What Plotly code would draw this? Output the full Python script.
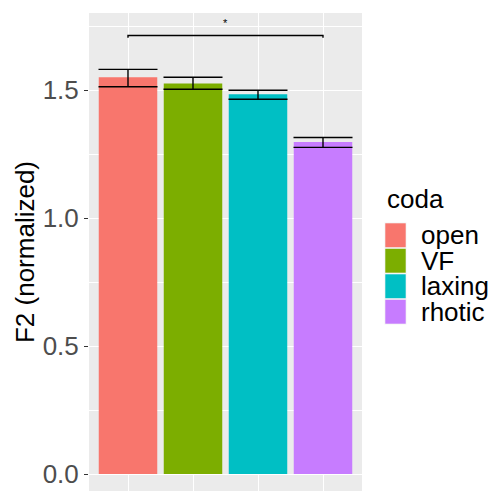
import plotly.graph_objects as go

# ---- data ----
categories = ["open", "VF", "laxing", "rhotic"]
means = [1.550, 1.526, 1.484, 1.297]
err_upper = [1.581, 1.550, 1.499, 1.315]
err_lower = [1.513, 1.503, 1.464, 1.276]
colors = ["#F8766D", "#7CAE00", "#00BFC4", "#C77CFF"]
y_tick_vals = [0.0, 0.5, 1.0, 1.5]
y_tick_text = ["0.0", "0.5", "1.0", "1.5"]
y_minor_vals = [0.25, 0.75, 1.25, 1.75]
sig_pair = ("open", "rhotic")
sig_y = 1.713
sig_tick = 0.009
sig_label = "*"
legend_title = "coda"

FONT = "Liberation Sans, Arial, sans-serif"
W, H = 489, 491
L, R, T, B = 89, 127, 13, 0
pw, ph = W - L - R, H - T - B


def px(x):
    return (x - L) / pw


def py(y):
    return (H - B - y) / ph


fig = go.Figure()
fig.add_trace(go.Bar(
    x=categories, y=means,
    marker=dict(color=colors, line=dict(width=0)),
    width=0.9,
    error_y=dict(type="data", symmetric=False,
                 array=[u - m for u, m in zip(err_upper, means)],
                 arrayminus=[m - l for m, l in zip(means, err_lower)],
                 color="black", thickness=1.4, width=29.5),
    showlegend=False,
))

# significance bracket
i0, i1 = categories.index(sig_pair[0]), categories.index(sig_pair[1])
fig.add_trace(go.Scatter(
    x=[sig_pair[0], sig_pair[0], sig_pair[1], sig_pair[1]],
    y=[sig_y - sig_tick, sig_y, sig_y, sig_y - sig_tick],
    mode="lines", line=dict(color="black", width=1.4),
    showlegend=False, hoverinfo="skip",
))
fig.add_annotation(x=(i0 + i1) / 2, y=sig_y, text=sig_label, showarrow=False,
                   xref="x", yref="y", yanchor="bottom", yshift=5,
                   font=dict(family=FONT, size=11, color="black"))

# manual legend (ggplot style)
shapes = []
annotations = []
annotations.append(dict(x=px(385), y=py(199), xref="paper", yref="paper",
                        text=legend_title, showarrow=False, xanchor="left",
                        yanchor="middle",
                        font=dict(family=FONT, size=26, color="black")))
key_top = 222.5
key_h = 25.5
for k, (cat, col) in enumerate(zip(categories, colors)):
    y0 = key_top + k * key_h
    shapes.append(dict(type="rect", xref="paper", yref="paper",
                       x0=px(384.5), x1=px(406.5), y0=py(y0), y1=py(y0 + key_h),
                       fillcolor="#F2F2F2", line=dict(width=0), layer="above"))
    shapes.append(dict(type="rect", xref="paper", yref="paper",
                       x0=px(385.3), x1=px(405.7), y0=py(y0 + 0.8), y1=py(y0 + key_h - 0.8),
                       fillcolor=col, line=dict(width=0), layer="above"))
    annotations.append(dict(x=px(419), y=py(y0 + key_h / 2), xref="paper", yref="paper",
                            text=cat, showarrow=False, xanchor="left", yanchor="middle",
                            font=dict(family=FONT, size=26, color="black")))
for a in annotations:
    fig.add_annotation(**a)

fig.update_layout(
    width=W, height=H,
    margin=dict(l=L, r=R, t=T, b=B, pad=0),
    paper_bgcolor="white", plot_bgcolor="#EBEBEB",
    font=dict(family=FONT),
    shapes=shapes,
    bargap=0.1,
    showlegend=False,
)
fig.update_xaxes(
    type="category", categoryorder="array", categoryarray=categories,
    range=[-0.6, 3.6], showgrid=True, gridcolor="white", gridwidth=1.2,
    showticklabels=False, ticks="", zeroline=False, showline=False, fixedrange=True,
)
fig.update_yaxes(
    range=[-0.066, 1.801], tickmode="array", tickvals=y_tick_vals, ticktext=y_tick_text,
    ticks="outside", ticklen=4, tickwidth=1.1, tickcolor="#333333",
    tickfont=dict(family=FONT, size=26, color="#4D4D4D"),
    showgrid=True, gridcolor="white", gridwidth=1.2, zeroline=False, showline=False,
    minor=dict(tickmode="array", tickvals=y_minor_vals, showgrid=True,
               gridcolor="white", gridwidth=0.6, ticks=""),
    title=dict(text="F2 (normalized)", standoff=0,
               font=dict(family=FONT, size=26, color="black")),
    fixedrange=True,
)

fig.write_html(
    "out.html",
    config={"displayModeBar": False},
    post_script="document.body.style.margin='0';document.body.style.padding='0';"
                "document.body.style.overflow='hidden';",
)
